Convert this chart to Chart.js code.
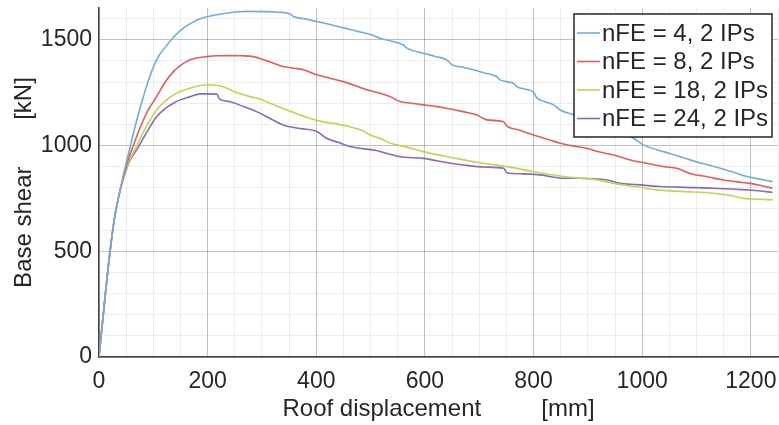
<!DOCTYPE html>
<html>
<head>
<meta charset="utf-8">
<script src="https://cdn.jsdelivr.net/npm/chart.js@4.4.1/dist/chart.umd.min.js"></script>
<style>
  html, body { margin: 0; padding: 0; background: #fff; }
  canvas { display: block; }
</style>
</head>
<body>
<canvas id="chart" width="779" height="425"></canvas>
<script>
// pushover curves: roof displacement [mm] vs base shear [kN]
const seriesLabels = ['nFE = 4, 2 IPs', 'nFE = 8, 2 IPs', 'nFE = 18, 2 IPs', 'nFE = 24, 2 IPs'];
const seriesColors = ['rgb(114,172,223)', 'rgb(236,88,92)', 'rgb(190,214,80)', 'rgb(140,104,188)'];

const disp4 = [0, 10, 20, 29, 39, 48, 57, 66, 75, 90, 106, 122, 137, 152, 168, 185, 201, 225, 247, 275, 302, 330, 352, 358, 380, 401, 425, 450, 470, 486, 505, 517, 536, 560, 567, 597, 620, 640, 650, 670, 689, 710, 732, 738, 763, 769, 785, 800, 806, 820, 837, 849, 873, 900, 930, 960, 984, 1002, 1039, 1060, 1088, 1115, 1144, 1170, 1193, 1215, 1240];
const shear4 = [0, 255, 492, 664, 790, 895, 990, 1085, 1170, 1300, 1405, 1465, 1512, 1548, 1576, 1598, 1610, 1622, 1630, 1634, 1633, 1630, 1622, 1610, 1598, 1586, 1572, 1556, 1544, 1534, 1520, 1507, 1495, 1476, 1460, 1436, 1420, 1405, 1381, 1370, 1358, 1343, 1326, 1310, 1294, 1278, 1266, 1252, 1225, 1208, 1192, 1168, 1145, 1118, 1090, 1060, 1034, 1003, 971, 955, 932, 912, 892, 872, 853, 842, 829];

const disp8 = [0, 10, 20, 29, 39, 48, 56, 64, 75, 90, 106, 122, 137, 152, 168, 183, 198, 220, 241, 262, 284, 303, 320, 339, 360, 376, 401, 425, 450, 470, 493, 517, 536, 554, 575, 597, 620, 640, 670, 695, 714, 744, 751, 775, 800, 825, 849, 875, 898, 920, 947, 980, 1008, 1040, 1064, 1088, 1120, 1150, 1175, 1199, 1220, 1240];
const shear8 = [0, 255, 492, 664, 790, 880, 950, 1005, 1080, 1165, 1231, 1300, 1349, 1382, 1405, 1415, 1420, 1424, 1425, 1424, 1420, 1405, 1390, 1373, 1365, 1358, 1334, 1318, 1302, 1285, 1263, 1247, 1231, 1208, 1200, 1192, 1185, 1176, 1160, 1145, 1121, 1113, 1092, 1072, 1050, 1030, 1011, 997, 987, 970, 955, 930, 916, 900, 892, 868, 852, 837, 828, 821, 810, 798];

const disp18 = [0, 10, 20, 29, 39, 48, 56, 70, 85, 106, 122, 137, 152, 168, 186, 204, 229, 253, 278, 296, 315, 346, 375, 401, 430, 462, 487, 500, 517, 536, 548, 570, 597, 635, 671, 710, 751, 800, 855, 886, 910, 947, 990, 1027, 1080, 1131, 1160, 1187, 1215, 1240];
const shear18 = [0, 255, 492, 664, 790, 870, 930, 1000, 1080, 1168, 1210, 1239, 1258, 1271, 1284, 1287, 1278, 1250, 1231, 1220, 1200, 1168, 1140, 1118, 1105, 1089, 1068, 1048, 1034, 1011, 1003, 990, 971, 950, 932, 915, 900, 876, 853, 845, 840, 821, 805, 790, 782, 774, 765, 750, 746, 743];

const disp24 = [0, 10, 20, 29, 39, 48, 56, 72, 85, 106, 122, 137, 152, 168, 186, 198, 217, 222, 240, 266, 290, 315, 339, 370, 401, 419, 440, 462, 485, 511, 530, 554, 597, 635, 671, 710, 745, 751, 780, 812, 855, 886, 935, 959, 990, 1033, 1080, 1131, 1193, 1215, 1240];
const shear24 = [0, 255, 492, 664, 790, 868, 925, 990, 1050, 1136, 1175, 1200, 1218, 1231, 1244, 1244, 1243, 1219, 1208, 1184, 1160, 1128, 1097, 1080, 1066, 1034, 1015, 995, 985, 976, 962, 947, 939, 922, 908, 898, 892, 870, 866, 861, 845, 845, 837, 821, 815, 806, 802, 798, 790, 786, 778];

const xTicksMajor = [0, 200, 400, 600, 800, 1000, 1200];
const yTicksMajor = [0, 500, 1000, 1500];

const FONT = "'Liberation Sans', Arial, Helvetica, sans-serif";
const TEXT = '#262626';
const GRID_MAJOR = 'rgba(0,0,0,0.24)';
const GRID_MINOR = 'rgba(0,0,0,0.07)';

function pairs(xs, ys) {
    return xs.map((x, i) => ({ x: x, y: ys[i] }));
}

const datasets = [
    pairs(disp4, shear4),
    pairs(disp8, shear8),
    pairs(disp18, shear18),
    pairs(disp24, shear24)
].map((data, i) => ({
    label: seriesLabels[i],
    data: data,
    borderColor: seriesColors[i],
    backgroundColor: seriesColors[i],
    borderWidth: 1.6,
    pointRadius: 0,
    cubicInterpolationMode: 'monotone',
    fill: false
}));

// boxed legend in the upper right corner, drawn over the curves
const boxLegend = {
    id: 'boxLegend',
    afterDatasetsDraw(chart) {
        const ctx = chart.ctx;
        const area = chart.chartArea;
        const right = area.right - 6;
        const top = area.top + 6;
        const w = 198, h = 123;
        const left = right - w;
        ctx.save();
        ctx.fillStyle = '#fff';
        ctx.fillRect(left, top, w, h);
        ctx.strokeStyle = '#262626';
        ctx.lineWidth = 1.5;
        ctx.strokeRect(left, top, w, h);
        ctx.font = '24px ' + FONT;
        ctx.textBaseline = 'middle';
        ctx.textAlign = 'left';
        seriesLabels.forEach((lab, i) => {
            const y = top + 19 + i * 28.5;
            ctx.strokeStyle = seriesColors[i];
            ctx.lineWidth = 1.6;
            ctx.beginPath();
            ctx.moveTo(left + 3, y);
            ctx.lineTo(left + 26, y);
            ctx.stroke();
            ctx.fillStyle = TEXT;
            ctx.fillText(lab, left + 28, y + 1);
        });
        ctx.restore();
    }
};

new Chart(document.getElementById('chart'), {
    type: 'line',
    data: { datasets: datasets },
    plugins: [boxLegend],
    options: {
        responsive: false,
        animation: false,
        devicePixelRatio: 1,
        layout: { padding: { left: 0, top: 8, right: 1, bottom: 0 } },
        plugins: {
            legend: { display: false },
            tooltip: { enabled: false }
        },
        scales: {
            x: {
                type: 'linear',
                min: 0,
                max: 1250,
                afterFit(scale) {
                    scale.height = 68;
                    scale.paddingLeft = 0;
                    scale.paddingRight = 0;
                },
                ticks: {
                    stepSize: 50,
                    autoSkip: false,
                    maxRotation: 0,
                    padding: 11,
                    color: TEXT,
                    font: { family: FONT, size: 23 },
                    callback: v => xTicksMajor.includes(v) ? String(v) : ''
                },
                grid: {
                    drawTicks: false,
                    lineWidth: 1,
                    color: c => xTicksMajor.includes(c.tick.value) ? GRID_MAJOR : GRID_MINOR
                },
                border: { color: '#404040', width: 1.5 },
                title: {
                    display: true,
                    text: 'Roof displacement\u00a0\u00a0\u00a0\u00a0\u00a0\u00a0\u00a0\u00a0\u00a0[mm]',
                    color: TEXT,
                    font: { family: FONT, size: 24, lineHeight: 1.2 },
                    padding: { top: 0, bottom: 1 }
                }
            },
            y: {
                type: 'linear',
                min: 0,
                max: 1650,
                afterFit(scale) {
                    scale.width = 99;
                    scale.paddingTop = 0;
                    scale.paddingBottom = 0;
                },
                ticks: {
                    stepSize: 100,
                    includeBounds: false,
                    autoSkip: false,
                    padding: 7,
                    color: TEXT,
                    font: { family: FONT, size: 23 },
                    callback: v => yTicksMajor.includes(v) ? String(v) : ''
                },
                grid: {
                    drawTicks: false,
                    lineWidth: 1,
                    color: c => yTicksMajor.includes(c.tick.value) ? GRID_MAJOR : GRID_MINOR
                },
                border: { color: '#404040', width: 1.5 },
                title: {
                    display: true,
                    text: 'Base shear\u00a0\u00a0\u00a0\u00a0\u00a0\u00a0\u00a0[kN]',
                    color: TEXT,
                    font: { family: FONT, size: 24, lineHeight: 1.2 },
                    padding: { top: 10, bottom: 0 }
                }
            }
        }
    }
});
</script>
</body>
</html>
